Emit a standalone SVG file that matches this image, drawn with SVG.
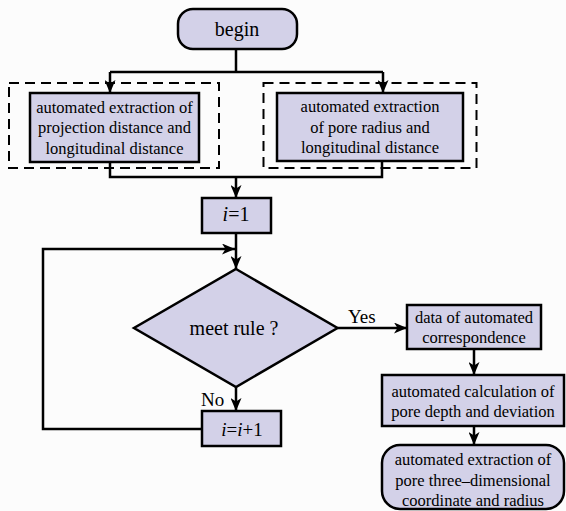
<svg xmlns="http://www.w3.org/2000/svg" width="566" height="511" viewBox="0 0 566 511">
<style>
.box{fill:#d3d1e8;stroke:#000;stroke-width:2.5}
.dash{fill:none;stroke:#000;stroke-width:2;stroke-dasharray:10,6}
.t{font-family:"Liberation Serif","Times New Roman",serif;font-size:16.5px;fill:#000;text-anchor:middle}
.big{font-family:"Liberation Serif","Times New Roman",serif;font-size:20px;fill:#000;text-anchor:middle}
.lbl{font-family:"Liberation Serif","Times New Roman",serif;font-size:19px;fill:#000}
.c{fill:none;stroke:#000;stroke-width:2.5}
</style>
<defs>
<marker id="ah" markerUnits="userSpaceOnUse" markerWidth="14" markerHeight="11" refX="13" refY="5.5" orient="auto">
<path d="M0,0 L13,5.5 L0,11 L3.5,5.5 z" fill="#000"/>
</marker>
</defs>
<rect x="0" y="0" width="566" height="511" fill="#fcfcfc"/>
<g id="connectors">
<path class="c" d="M236,49 V72 M110,72 H383"/>
<path class="c" d="M110,72 V93" marker-end="url(#ah)"/>
<path class="c" d="M383,72 V93" marker-end="url(#ah)"/>
<path class="c" d="M110,162 V177 H382 V161"/>
<path class="c" d="M236,177 V198" marker-end="url(#ah)"/>
<path class="c" d="M236,233 V269" marker-end="url(#ah)"/>
<path class="c" d="M202,429 H43 V249 H235" marker-end="url(#ah)"/>
<path class="c" d="M236,387 V411" marker-end="url(#ah)"/>
<path class="c" d="M337.5,328 H407" marker-end="url(#ah)"/>
<path class="c" d="M474,349 V375" marker-end="url(#ah)"/>
<path class="c" d="M474,426 V445" marker-end="url(#ah)"/>
</g>
<g id="begin">
<rect class="box" x="178" y="9" width="119" height="40" rx="15"/>
<text class="big" x="237" y="36">begin</text>
</g>
<g id="group-left">
<rect class="dash" x="9" y="83" width="210" height="85"/>
</g>
<g id="extract-projection">
<rect class="box" x="30" y="93" width="169" height="69"/>
<text class="t" x="114.5" y="112.5">automated extraction of</text>
<text class="t" x="114.5" y="133">projection distance and</text>
<text class="t" x="114.5" y="153.5">longitudinal distance</text>
</g>
<g id="group-right">
<rect class="dash" x="263.5" y="83" width="213" height="85"/>
</g>
<g id="extract-pore">
<rect class="box" x="277" y="93" width="186" height="68"/>
<text class="t" x="370" y="111.5">automated extraction</text>
<text class="t" x="370" y="132.5">of pore radius and</text>
<text class="t" x="370" y="152.5">longitudinal distance</text>
</g>
<g id="init">
<rect class="box" x="202" y="198" width="69" height="35"/>
<text class="big" x="236" y="221"><tspan font-style="italic">i</tspan>=1</text>
</g>
<g id="decision">
<polygon class="box" points="236,269 337.5,328 236,387 134,328"/>
<text class="big" x="234" y="334.5">meet rule ?</text>
</g>
<g id="labels">
<text class="lbl" x="348" y="323">Yes</text>
<text class="lbl" x="201" y="406">No</text>
</g>
<g id="increment">
<rect class="box" x="202" y="411" width="79" height="35"/>
<text class="big" x="242" y="435.5" style="font-size:19px"><tspan font-style="italic">i</tspan>=<tspan font-style="italic">i</tspan>+1</text>
</g>
<g id="correspondence">
<rect class="box" x="407" y="305" width="134" height="44"/>
<text class="t" x="474" y="322.5">data of automated</text>
<text class="t" x="474" y="342.5">correspondence</text>
</g>
<g id="calculation">
<rect class="box" x="382" y="375" width="182" height="51"/>
<text class="t" x="473" y="396.5">automated calculation of</text>
<text class="t" x="473" y="416.5">pore depth and deviation</text>
</g>
<g id="final">
<rect class="box" x="382" y="445" width="182" height="64" rx="18"/>
<text class="t" x="473" y="464.5">automated extraction of</text>
<text class="t" x="473" y="485.5">pore three–dimensional</text>
<text class="t" x="473" y="505.5">coordinate and radius</text>
</g>
</svg>
